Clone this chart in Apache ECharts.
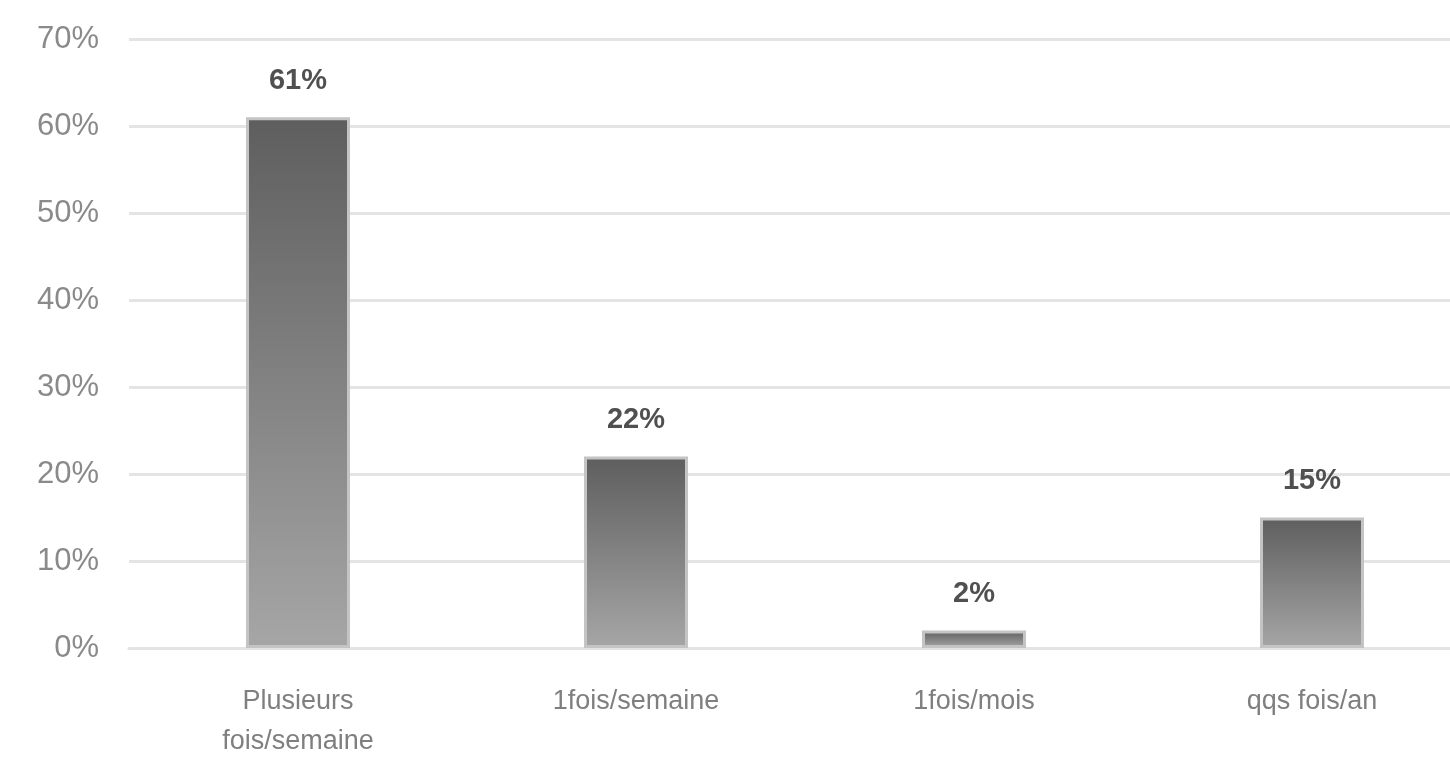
<!DOCTYPE html>
<html>
<head>
<meta charset="utf-8">
<script src="https://cdn.jsdelivr.net/npm/echarts@6/dist/echarts.min.js"></script>
<style>html,body{margin:0;padding:0;background:#fff;overflow:hidden}#c{width:1482px;height:762px}</style>
</head>
<body>
<div id="c"></div>
<script>
const categories = ['Plusieurs\nfois/semaine', '1fois/semaine', '1fois/mois', 'qqs fois/an'];
const values = [61, 22, 2, 15];
const yTicks = [0, 10, 20, 30, 40, 50, 60, 70];

const chart = echarts.init(document.getElementById('c'));
chart.setOption({
  animation: false,
  grid: { left: 129, top: 39, right: 1, bottom: 112, containLabel: false },
  xAxis: {
    type: 'category',
    data: categories,
    axisLine: { show: true, lineStyle: { color: '#e4e4e4', width: 3 } },
    axisTick: { show: false },
    axisLabel: { color: '#7f7f7f', fontSize: 27, fontFamily: 'Liberation Sans Narrow, Liberation Sans, sans-serif', margin: 34, lineHeight: 40 }
  },
  yAxis: {
    type: 'value',
    min: yTicks[0], max: yTicks[yTicks.length - 1], interval: 10,
    axisLine: { show: false },
    axisTick: { show: false },
    splitLine: { lineStyle: { color: '#e4e4e4', width: 3 } },
    axisLabel: { formatter: '{value}%', color: '#8a8a8a', fontSize: 31, fontFamily: 'Liberation Sans Narrow, Liberation Sans, sans-serif', margin: 30 }
  },
  series: [{
    type: 'bar',
    data: values,
    barWidth: 104,
    itemStyle: {
      color: new echarts.graphic.LinearGradient(0, 0, 0, 1, [
        { offset: 0, color: '#5e5e5e' },
        { offset: 1, color: '#a6a6a6' }
      ]),
      borderColor: '#c4c4c4',
      borderWidth: 3
    },
    label: {
      show: true, position: 'top', distance: 22,
      formatter: '{c}%', color: '#505050', fontWeight: 'bold', fontSize: 29,
      fontFamily: 'Liberation Sans, sans-serif'
    }
  }]
});
</script>
</body>
</html>
